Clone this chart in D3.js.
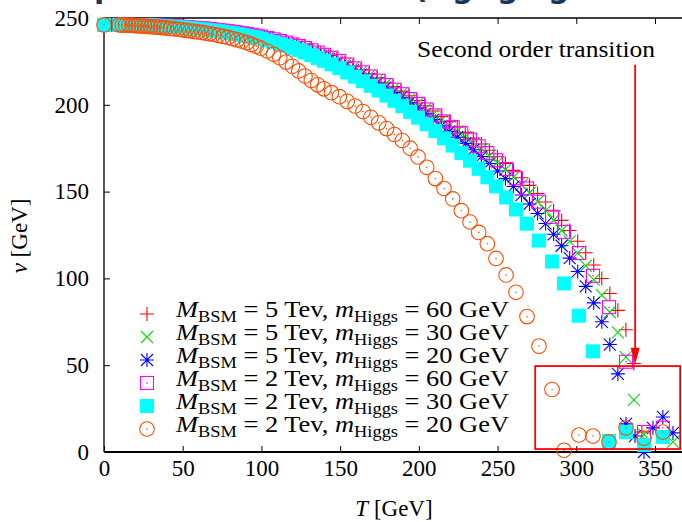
<!DOCTYPE html>
<html>
<head>
<meta charset="utf-8">
<script src="https://cdn.jsdelivr.net/npm/d3@7"></script>
<style>
  body { margin: 0; background: #fff; }
</style>
</head>
<body>
<div id="chart"></div>
<script>
// temperature grid of the M_BSM = 5 TeV runs (GeV)
const tempFive = [0, 5.1, 10.2, 15.3, 20.4, 25.5, 30.6, 35.7, 40.8, 45.9,
  51, 56.1, 61.2, 66.3, 71.4, 76.5, 81.6, 86.7, 91.8, 96.9,
  102, 107.1, 112.2, 117.3, 122.4, 127.5, 132.6, 137.7, 142.8, 147.9,
  153, 158.1, 163.2, 168.3, 173.4, 178.5, 183.6, 188.7, 193.8, 198.9,
  204, 209.1, 214.2, 219.3, 224.4, 229.5, 234.6, 239.7, 244.8, 249.9,
  255, 260.1, 265.2, 270.3, 275.4, 280.5, 285.6, 290.7, 295.8, 300.9,
  306, 311.1, 316.2, 321.3, 326.4, 331.5, 336.6, 341.7]

// v (GeV) for M_BSM = 5 TeV, m_Higgs = 60 GeV
const vevFive60 = [246.0, 246.0, 246.0, 246.0, 245.9, 245.9, 245.7, 245.5, 245.3, 245.1,
  244.8, 244.6, 244.2, 243.9, 243.4, 242.9, 242.4, 241.7, 240.9, 240.1,
  239.1, 238.1, 237.0, 235.8, 234.5, 233.2, 231.6, 230.0, 228.3, 226.5,
  224.4, 222.3, 220.1, 217.8, 215.5, 213.0, 210.5, 207.9, 205.2, 202.4,
  199.4, 196.4, 193.2, 190.3, 187.2, 184.1, 180.8, 177.4, 173.8, 170.1,
  166.2, 162.2, 158.0, 153.6, 148.9, 144.0, 138.9, 133.4, 127.6, 121.4,
  114.8, 107.7, 99.9, 91.3, 81.6, 70.4, 51, 11.5]

// v (GeV) for M_BSM = 5 TeV, m_Higgs = 30 GeV
const vevFive30 = [246.0, 246.0, 246.0, 245.9, 245.9, 245.8, 245.6, 245.4, 245.2, 245.0,
  244.7, 244.4, 244.0, 243.6, 243.1, 242.6, 242.0, 241.3, 240.5, 239.7,
  238.7, 237.7, 236.6, 235.4, 234.1, 232.6, 231.0, 229.3, 227.6, 225.6,
  223.5, 221.3, 219.0, 216.6, 214.2, 211.6, 209.0, 206.2, 203.3, 200.5,
  197.5, 194.4, 191.0, 188.0, 184.8, 181.5, 178.0, 174.5, 170.7, 166.8,
  162.7, 158.4, 153.9, 149.2, 144.3, 139.0, 133.5, 127.6, 121.3, 114.5,
  107.2, 99.3, 90.4, 80.5, 68.9, 54.7, 30]

// v (GeV) for M_BSM = 5 TeV, m_Higgs = 20 GeV
const vevFive20 = [246.0, 246.0, 246.0, 245.9, 245.9, 245.8, 245.6, 245.4, 245.1, 244.9,
  244.6, 244.3, 243.8, 243.4, 242.8, 242.3, 241.6, 240.9, 240.0, 239.2,
  238.1, 237.0, 235.8, 234.5, 233.2, 231.6, 229.9, 228.1, 226.3, 224.3,
  222.1, 219.8, 217.4, 214.9, 212.4, 209.7, 207.0, 204.1, 201.1, 198.1,
  194.8, 191.5, 187.9, 184.7, 181.3, 177.8, 174.1, 170.2, 166.2, 161.9,
  157.5, 152.9, 148.0, 142.9, 137.4, 131.6, 125.4, 118.8, 111.7, 104.0,
  95.4, 85.9, 75.0, 61.9, 45.0]

// scattered points after the transition, [T, v]
const tailFive30 = [[343, 10], [361.4, 5.8]]
const tailFive20 = [[331.6, 16.2], [337.3, 9.2], [343, 0], [348.7, 13.9], [355, 20.2], [361.4, 11]]

// temperature grid of the M_BSM = 2 TeV runs (GeV)
const tempTwo = [0, 9.7, 11.7, 13.7, 15.7, 17.7, 19.7, 21.7, 23.7, 25.7,
  27.7, 29.7, 31.7, 33.7, 35.7, 37.7, 39.7, 42.2, 44.7, 47.2,
  49.7, 52.2, 54.7, 57.2, 59.7, 62.2, 64.7, 67.2, 69.7, 72.7,
  75.7, 78.7, 81.7, 84.7, 87.7, 90.7, 93.7, 96.7, 99.7, 103.7,
  107.7, 111.7, 115.7, 119.7, 123.7, 127.7, 131.7, 135.7, 139.7, 144.5,
  149.5, 154.5, 159.5, 164.5, 169.5, 174.5, 179.5, 184.5, 189.5, 194.5,
  199.5, 205, 210.5, 216, 221.5, 227, 232.5, 238, 243.5, 249,
  255.4, 261.7, 268.7, 276.3, 284.6, 292.2, 301.7, 310.6, 320.8, 331.6,
  343, 355]

// v (GeV) for M_BSM = 2 TeV, m_Higgs = 60 GeV
const vevTwo60 = [246, 246.0, 246.0, 246.0, 246.0, 246.0, 245.9, 245.9, 245.9, 245.9,
  245.8, 245.8, 245.7, 245.6, 245.6, 245.5, 245.4, 245.3, 245.2, 245.0,
  244.9, 244.7, 244.5, 244.4, 244.2, 244.0, 243.8, 243.6, 243.3, 243.0,
  242.7, 242.4, 242.0, 241.6, 241.2, 240.8, 240.3, 239.7, 239.3, 238.5,
  237.7, 236.7, 235.8, 234.8, 233.9, 232.7, 231.4, 230.1, 228.8, 227.1,
  225.3, 223.2, 221.0, 218.7, 216.3, 213.9, 211.4, 208.7, 206.1, 203.3,
  200.5, 197.3, 193.9, 190.4, 187.1, 183.6, 179.9, 176.1, 172.2, 168.1,
  163.0, 157.7, 151.8, 144.2, 135.5, 126.8, 114.6, 101.5, 83.4, 52,
  11.5, 14]

// v (GeV) for M_BSM = 2 TeV, m_Higgs = 30 GeV
const vevTwo30 = [246, 246.0, 246.0, 246.0, 245.9, 245.9, 245.9, 245.9, 245.8, 245.8,
  245.8, 245.7, 245.6, 245.5, 245.4, 245.3, 245.2, 245.0, 244.9, 244.7,
  244.5, 244.3, 244.1, 243.9, 243.7, 243.4, 243.2, 242.9, 242.7, 242.4,
  242.0, 241.6, 241.2, 240.7, 240.3, 239.7, 239.2, 238.7, 238.1, 237.1,
  236.1, 235.0, 234.0, 232.8, 231.6, 230.2, 228.6, 227.0, 225.4, 223.3,
  221.1, 218.7, 216.2, 213.6, 210.9, 208.2, 205.3, 202.3, 199.2, 195.9,
  192.6, 188.8, 184.9, 180.7, 176.5, 172.2, 167.8, 163.1, 158.2, 153.0,
  146.6, 139.7, 131.5, 121.8, 109.7, 97.1, 78.5, 58, 6.4, 11.5,
  4, 8.7]

// v (GeV) for M_BSM = 2 TeV, m_Higgs = 20 GeV
const vevTwo20 = [246, 246, 245.9, 245.9, 245.8, 245.7, 245.6, 245.5, 245.4, 245.3,
  245.1, 245.0, 244.9, 244.7, 244.6, 244.4, 244.2, 244.0, 243.7, 243.5,
  243.2, 242.9, 242.6, 242.3, 242.0, 241.7, 241.3, 240.9, 240.5, 240.0,
  239.4, 238.8, 238.1, 237.4, 236.6, 235.8, 234.8, 233.7, 232.6, 231.0,
  229.1, 227.1, 224.6, 222.2, 219.5, 216.6, 214.0, 211.5, 209.2, 207.0,
  204.7, 202.0, 199.3, 196.1, 192.8, 189.6, 186.3, 182.9, 179.4, 175.0,
  170.0, 164.0, 157.5, 151.8, 145.8, 139.0, 132.5, 126.5, 120.0, 111.5,
  102, 92, 78, 61, 36, 1, 9.8, 9.2, 5.8, 13.9,
  8, 11.5]

// legend
const legendMass = ['5', '5', '5', '2', '2', '2']
const legendHiggs = ['60', '30', '20', '60', '30', '20']

// tick labels
const xTicks = [0, 50, 100, 150, 200, 250, 300, 350]
const yTicks = [0, 50, 100, 150, 200, 250]

// ----- layout -----
const width = 682
const height = 522
const serif = '"Liberation Serif", serif'
const xScale = d3.scaleLinear().domain([0, 350]).range([104, 655])
const yScale = d3.scaleLinear().domain([0, 250]).range([452, 18])
const xMax = 370

const svg = d3.select('#chart').append('svg')
  .attr('width', width).attr('height', height)
  .style('display', 'block')

// slide title above the figure, mostly cut off by the crop
const titleBits = [['p', 94], ['(', 414], ['g', 452], ['g', 497], ['g', 548]]
titleBits.forEach(([ch, x]) => {
  svg.append('text').attr('x', x).attr('y', -2).attr('font-size', 30)
    .style('font-family', '"DejaVu Sans", sans-serif').style('font-weight', 'bold')
    .attr('fill', '#17375e').text(ch)
})

// frame and ticks
const axes = svg.append('g')
axes.append('g')
  .attr('transform', `translate(0 ${yScale(0)})`)
  .call(d3.axisBottom(xScale).tickValues(xTicks).tickSize(-6).tickSizeOuter(0).tickPadding(8))
  .call(g => g.select('.domain').remove())
axes.append('g')
  .attr('transform', `translate(0 ${yScale(250)})`)
  .call(d3.axisTop(xScale).tickValues(xTicks).tickSize(-6).tickSizeOuter(0).tickFormat(''))
  .call(g => g.select('.domain').remove())
axes.append('g')
  .attr('transform', `translate(${xScale(0)} 0)`)
  .call(d3.axisLeft(yScale).tickValues(yTicks).tickSize(-6).tickSizeOuter(0).tickPadding(15))
  .call(g => g.select('.domain').remove())
axes.selectAll('g').attr('font-family', null).attr('font-size', null)
axes.selectAll('.tick line').attr('stroke', '#000').attr('stroke-width', 1)
axes.selectAll('.tick text').attr('font-size', 23).style('font-family', serif).attr('fill', '#000')

axes.append('line')
  .attr('x1', xScale(0)).attr('x2', xScale(xMax)).attr('y1', yScale(0)).attr('y2', yScale(0))
  .attr('stroke', '#000').attr('stroke-width', 2.2)
axes.append('line')
  .attr('x1', xScale(0)).attr('x2', xScale(xMax)).attr('y1', yScale(250)).attr('y2', yScale(250))
  .attr('stroke', '#000').attr('stroke-width', 1.3)
axes.append('line')
  .attr('x1', xScale(0)).attr('x2', xScale(0)).attr('y1', yScale(250)).attr('y2', yScale(0))
  .attr('stroke', '#000').attr('stroke-width', 1.3)

// axis titles
svg.append('text')
  .attr('x', 394).attr('y', 516).attr('text-anchor', 'middle').attr('font-size', 23)
  .style('font-family', serif)
  .call(t => {
    t.append('tspan').attr('font-style', 'italic').text('T')
    t.append('tspan').text(' [GeV]')
  })
svg.append('text')
  .attr('transform', 'translate(27 236) rotate(-90)')
  .attr('text-anchor', 'middle').attr('font-size', 23)
  .style('font-family', serif)
  .call(t => {
    t.append('tspan').attr('font-style', 'italic').text('v')
    t.append('tspan').text(' [GeV]')
  })

// ----- markers -----
const plusPath = 'M-7,0H7M0,-7V7'
const crossPath = 'M-6,-6L6,6M-6,6L6,-6'
const starPath = plusPath + crossPath

function pathMarkers (g, points, d, color) {
  g.selectAll(null).data(points).enter().append('path')
    .attr('transform', p => `translate(${xScale(p[0])} ${yScale(p[1])})`)
    .attr('d', d).attr('fill', 'none').attr('stroke', color).attr('stroke-width', 1.1)
}

function openSquares (g, points, color) {
  const m = g.selectAll(null).data(points).enter().append('g')
    .attr('transform', p => `translate(${xScale(p[0])} ${yScale(p[1])})`)
  m.append('rect').attr('x', -6.5).attr('y', -6.5).attr('width', 13).attr('height', 13)
    .attr('fill', 'none').attr('stroke', color).attr('stroke-width', 1.1)
  m.append('circle').attr('r', 0.8).attr('fill', color)
}

function filledSquares (g, points, color) {
  g.selectAll(null).data(points).enter().append('rect')
    .attr('x', p => xScale(p[0]) - 7).attr('y', p => yScale(p[1]) - 7)
    .attr('width', 14).attr('height', 14).attr('fill', color)
}

function openCircles (g, points, color) {
  const m = g.selectAll(null).data(points).enter().append('g')
    .attr('transform', p => `translate(${xScale(p[0])} ${yScale(p[1])})`)
  m.append('circle').attr('r', 7.3).attr('fill', 'none').attr('stroke', color).attr('stroke-width', 1.1)
  m.append('circle').attr('r', 0.8).attr('fill', color)
}

const pairs = (temps, vevs) => vevs.map((v, i) => [temps[i], v])

const series = [
  { color: '#ff0000', draw: (g, p, c) => pathMarkers(g, p, plusPath, c), points: pairs(tempFive, vevFive60) },
  { color: '#00e000', draw: (g, p, c) => pathMarkers(g, p, crossPath, c), points: pairs(tempFive, vevFive30).concat(tailFive30) },
  { color: '#0000ff', draw: (g, p, c) => pathMarkers(g, p, starPath, c), points: pairs(tempFive, vevFive20).concat(tailFive20) },
  { color: '#ff00ff', draw: openSquares, points: pairs(tempTwo, vevTwo60) },
  { color: '#00ffff', draw: filledSquares, points: pairs(tempTwo, vevTwo30) },
  { color: '#ff4d00', draw: openCircles, points: pairs(tempTwo, vevTwo20) }
]

const marks = svg.append('g').attr('class', 'marks')
series.forEach(s => s.draw(marks.append('g'), s.points, s.color))

// ----- annotation -----
const annot = svg.append('g')
annot.append('rect')
  .attr('x', xScale(273.9)).attr('y', yScale(49.5))
  .attr('width', xScale(366) - xScale(273.9)).attr('height', yScale(1.7) - yScale(49.5))
  .attr('fill', 'none').attr('stroke', '#ff0000').attr('stroke-width', 1.8)
annot.append('line')
  .attr('x1', xScale(337.4)).attr('x2', xScale(337.4)).attr('y1', yScale(223)).attr('y2', yScale(57))
  .attr('stroke', '#ff0000').attr('stroke-width', 1.8)
annot.append('path')
  .attr('d', `M${xScale(337.4)},${yScale(50.5)}L${xScale(337.4) - 4.5},${yScale(60)}L${xScale(337.4) + 4.5},${yScale(60)}Z`)
  .attr('fill', '#ff0000')
annot.append('text')
  .attr('x', xScale(198.9)).attr('y', 57).attr('font-size', 23)
  .style('font-family', serif)
  .attr('textLength', 238).attr('lengthAdjust', 'spacingAndGlyphs')
  .text('Second order transition')

// ----- legend -----
const legend = svg.append('g')
const rowY = i => 314 + i * 23
series.forEach((s, i) => {
  s.draw(legend.append('g'), [[xScale.invert(147), yScale.invert(rowY(i))]], s.color)
  const t = legend.append('text')
    .attr('x', 176).attr('y', rowY(i) + 3).attr('font-size', 23)
    .style('font-family', serif).style('white-space', 'pre')
    .attr('textLength', 333).attr('lengthAdjust', 'spacingAndGlyphs')
  t.append('tspan').attr('font-style', 'italic').text('M')
  t.append('tspan').attr('dy', 5).attr('font-size', 16).text('BSM')
  t.append('tspan').attr('dy', -5).text(` = ${legendMass[i]} Tev, `)
  t.append('tspan').attr('font-style', 'italic').text('m')
  t.append('tspan').attr('dy', 5).attr('font-size', 16).text('Higgs')
  t.append('tspan').attr('dy', -5).text(` = ${legendHiggs[i]} GeV`)
})
</script>
</body>
</html>
